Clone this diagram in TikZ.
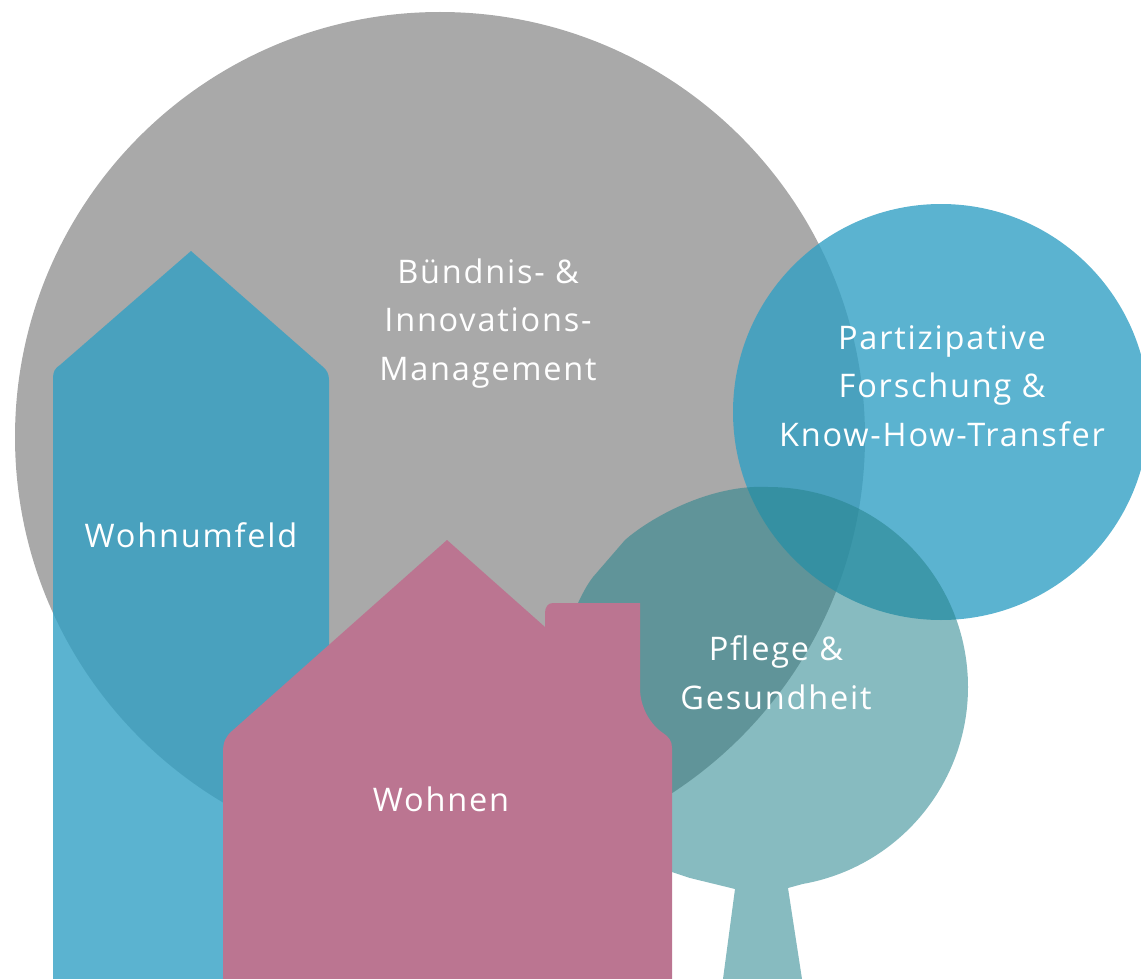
\documentclass[tikz,border=0pt]{standalone}
\usepackage{fontspec}
\setmainfont[LetterSpace=5.5]{Open Sans}
\definecolor{buendnisgray}{HTML}{A9A9A9}
\definecolor{forschungblue}{HTML}{32A0C4}
\definecolor{pflegeteal}{HTML}{25838C}
\definecolor{wohnenrose}{HTML}{BB7591}
\tikzset{
  label/.style={text=white, align=center, font=\fontsize{32.5}{48.5}\selectfont},
}
\begin{document}
\begin{tikzpicture}[x=1pt, y=-1pt]
  \useasboundingbox (0,0) rectangle (1141,979);
  \clip (0,0) rectangle (1141,979);
  \def\rr{425}

  \fill[buendnisgray] (440,437) circle (\rr);
  \fill[forschungblue, fill opacity=0.8] (941,412) circle (208);

  % Wohnumfeld
  \fill[forschungblue, fill opacity=0.8] (191,251) -- (322,366)
    .. controls (327,370) and (329,374) .. (329,380) -- (329,979) -- (53,979) -- (53,378)
    .. controls (53,372) and (55,368) .. (60,365) -- cycle;

  % Pflege, Baum
  \fill[pflegeteal, fill opacity=0.55] (768,487) arc (-90:80:200) -- (788,888)
    -- (802,979) -- (723,979) -- (735,889) -- (690,878) -- (672,872)
    -- (600,800) -- (560,680) -- (578,603)
    .. controls (582,595) and (586,586) .. (593,577) -- (625,540)
    .. controls (650,518) and (710,484) .. (768,487) -- cycle;

  % Wohnen
  \fill[wohnenrose] (447,540) -- (545,627) -- (545,613)
    .. controls (545,607) and (548,603) .. (553,603) -- (640,603) -- (640,688)
    .. controls (640,708) and (651,725) .. (663,733)
    .. controls (669,737) and (672,741) .. (672,748) -- (672,979) -- (223,979) -- (223,752)
    .. controls (223,742) and (226,736) .. (232,731) -- cycle;

  \node[label] (buendnis) at (488,323.5) {Bündnis- \&\\Innovations-\\Management};
  \node[label] (forschung) at (942,386) {Partizipative\\Forschung \&\\Know-How-Transfer};
  \node[label] (pflege) at (776,672.5) {Pflege \&\\Gesundheit};
  \node[label] (wohnumfeld) at (191,535) {Wohnumfeld};
  \node[label] (wohnen) at (441,799) {Wohnen};
\end{tikzpicture}
\end{document}
